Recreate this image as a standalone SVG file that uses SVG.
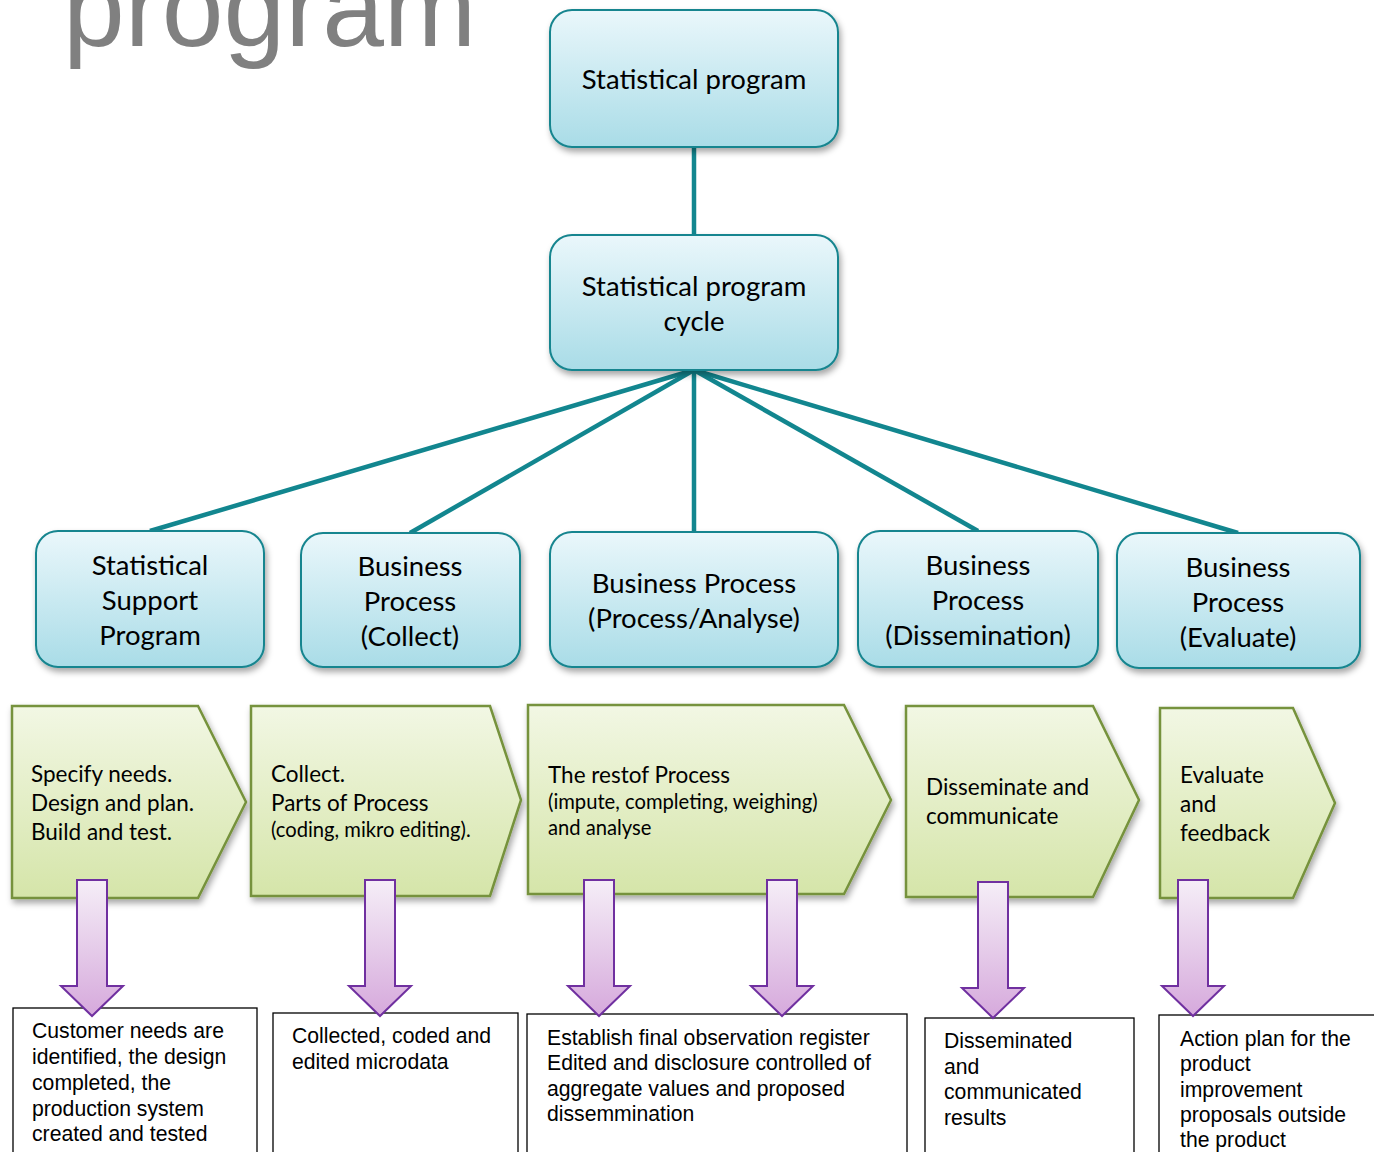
<svg xmlns="http://www.w3.org/2000/svg" width="1374" height="1152" viewBox="0 0 1374 1152">
<style>
.node{fill:url(#blue);stroke:#17858f;stroke-width:2;filter:url(#sh)}
.nt{font-family:Lato,"Open Sans",sans-serif;font-size:27.5px;fill:#000;text-anchor:middle}
.chev{fill:url(#green);stroke:#76923c;stroke-width:2.5;filter:url(#sh)}
.ct{font-family:Lato,"Open Sans",sans-serif;font-size:22.5px;fill:#000}
.cs{font-size:20.2px}
.arr{fill:url(#purple);stroke:#7030a0;stroke-width:2}
.box{fill:#fff;stroke:#000;stroke-width:1.3}
.bt{font-family:"Liberation Sans",Arial,sans-serif;font-size:21.2px;fill:#000}
.con{stroke:#12868f;stroke-width:4.5;fill:none}
</style>
<defs>
<linearGradient id="blue" x1="0" y1="0" x2="0" y2="1"><stop offset="0" stop-color="#eaf7fb"/><stop offset="1" stop-color="#a9dce7"/></linearGradient>
<linearGradient id="green" x1="0" y1="0" x2="0" y2="1"><stop offset="0" stop-color="#f2f7e4"/><stop offset="1" stop-color="#d5e5a9"/></linearGradient>
<linearGradient id="purple" x1="0" y1="0" x2="0" y2="1"><stop offset="0" stop-color="#f5eef7"/><stop offset="1" stop-color="#d6a9dc"/></linearGradient>
<filter id="sh" x="-10%" y="-10%" width="125%" height="130%"><feDropShadow dx="2" dy="4" stdDeviation="3" flood-color="#000" flood-opacity="0.35"/></filter>
</defs>
<rect width="1374" height="1152" fill="#fff"/>
<text x="63" y="46" font-family="Liberation Sans,Arial,sans-serif" font-size="111" fill="#808080">program</text>

<g id="connectors">
<line class="con" x1="694" y1="147" x2="694" y2="235"/>
<line class="con" x1="694" y1="370" x2="150" y2="531"/>
<line class="con" x1="694" y1="370" x2="410" y2="533"/>
<line class="con" x1="694" y1="370" x2="694" y2="532"/>
<line class="con" x1="694" y1="370" x2="978" y2="531"/>
<line class="con" x1="694" y1="370" x2="1238" y2="533"/>
</g>

<g id="n-program"><rect class="node" x="550" y="10" width="288" height="137" rx="22"/><text class="nt" x="694" y="89">Statistical program</text></g>
<g id="n-cycle"><rect class="node" x="550" y="235" width="288" height="135" rx="22"/><text class="nt" x="694" y="296">Statistical program</text><text class="nt" x="694" y="331">cycle</text></g>

<g id="n-support"><rect class="node" x="36" y="531" width="228" height="136" rx="22"/><text class="nt" x="150" y="575">Statistical</text><text class="nt" x="150" y="610">Support</text><text class="nt" x="150" y="645">Program</text></g>
<g id="n-collect"><rect class="node" x="301" y="533" width="219" height="134" rx="22"/><text class="nt" x="410" y="576">Business</text><text class="nt" x="410" y="611">Process</text><text class="nt" x="410" y="646">(Collect)</text></g>
<g id="n-process"><rect class="node" x="550" y="532" width="288" height="135" rx="22"/><text class="nt" x="694" y="593">Business Process</text><text class="nt" x="694" y="628">(Process/Analyse)</text></g>
<g id="n-dissem"><rect class="node" x="858" y="531" width="240" height="136" rx="22"/><text class="nt" x="978" y="575">Business</text><text class="nt" x="978" y="610">Process</text><text class="nt" x="978" y="645">(Dissemination)</text></g>
<g id="n-evaluate"><rect class="node" x="1117" y="533" width="243" height="135" rx="22"/><text class="nt" x="1238" y="577">Business</text><text class="nt" x="1238" y="612">Process</text><text class="nt" x="1238" y="647">(Evaluate)</text></g>

<g id="c-specify"><polygon class="chev" points="12,706 198,706 246,802 198,898 12,898"/><text class="ct" x="31" y="782">Specify needs.</text><text class="ct" x="31" y="811">Design and plan.</text><text class="ct" x="31" y="840">Build and test.</text></g>
<g id="c-collect"><polygon class="chev" points="251,706 490,706 521,800 490,896 251,896"/><text class="ct" x="271" y="782">Collect.</text><text class="ct" x="271" y="811">Parts of Process</text><text class="ct cs" x="271" y="837">(coding, mikro editing).</text></g>
<g id="c-process"><polygon class="chev" points="528,705 844,705 891,800 844,894 528,894"/><text class="ct" x="548" y="783">The restof Process</text><text class="ct cs" x="548" y="809">(impute, completing, weighing)</text><text class="ct cs" x="548" y="835">and analyse</text></g>
<g id="c-dissem"><polygon class="chev" points="906,706 1093,706 1139,800 1093,897 906,897"/><text class="ct" x="926" y="795">Disseminate and</text><text class="ct" x="926" y="824">communicate</text></g>
<g id="c-evaluate"><polygon class="chev" points="1160,708 1293,708 1335,803 1293,898 1160,898"/><text class="ct" x="1180" y="783">Evaluate</text><text class="ct" x="1180" y="812">and</text><text class="ct" x="1180" y="841">feedback</text></g>

<g id="b-1"><rect class="box" x="13" y="1008" width="244" height="150"/><text class="bt" x="32" y="1038">Customer needs are</text><text class="bt" x="32" y="1064">identified, the design</text><text class="bt" x="32" y="1090">completed, the</text><text class="bt" x="32" y="1116">production system</text><text class="bt" x="32" y="1141">created and tested</text></g>
<g id="b-2"><rect class="box" x="273" y="1013" width="245" height="145"/><text class="bt" x="292" y="1043">Collected, coded and</text><text class="bt" x="292" y="1069">edited microdata</text></g>
<g id="b-3"><rect class="box" x="527" y="1014" width="380" height="144"/><text class="bt" x="547" y="1045">Establish final observation register</text><text class="bt" x="547" y="1070">Edited and disclosure controlled of</text><text class="bt" x="547" y="1096">aggregate values and proposed</text><text class="bt" x="547" y="1121">dissemmination</text></g>
<g id="b-4"><rect class="box" x="925" y="1018" width="209" height="140"/><text class="bt" x="944" y="1048">Disseminated</text><text class="bt" x="944" y="1074">and</text><text class="bt" x="944" y="1099">communicated</text><text class="bt" x="944" y="1125">results</text></g>
<g id="b-5"><rect class="box" x="1159" y="1015" width="230" height="143"/><text class="bt" x="1180" y="1046">Action plan for the</text><text class="bt" x="1180" y="1071">product</text><text class="bt" x="1180" y="1097">improvement</text><text class="bt" x="1180" y="1122">proposals outside</text><text class="bt" x="1180" y="1147">the product</text></g>

<g id="arrows">
<polygon class="arr" points="77,880 107,880 107,986 123,986 92,1016 61,986 77,986"/>
<polygon class="arr" points="365,880 395,880 395,986 411,986 380,1016 349,986 365,986"/>
<polygon class="arr" points="584,880 614,880 614,986 630,986 599,1016 568,986 584,986"/>
<polygon class="arr" points="767,880 797,880 797,986 813,986 782,1016 751,986 767,986"/>
<polygon class="arr" points="978,882 1008,882 1008,988 1024,988 993,1018 962,988 978,988"/>
<polygon class="arr" points="1178,880 1208,880 1208,986 1224,986 1193,1016 1162,986 1178,986"/>
</g>
</svg>
